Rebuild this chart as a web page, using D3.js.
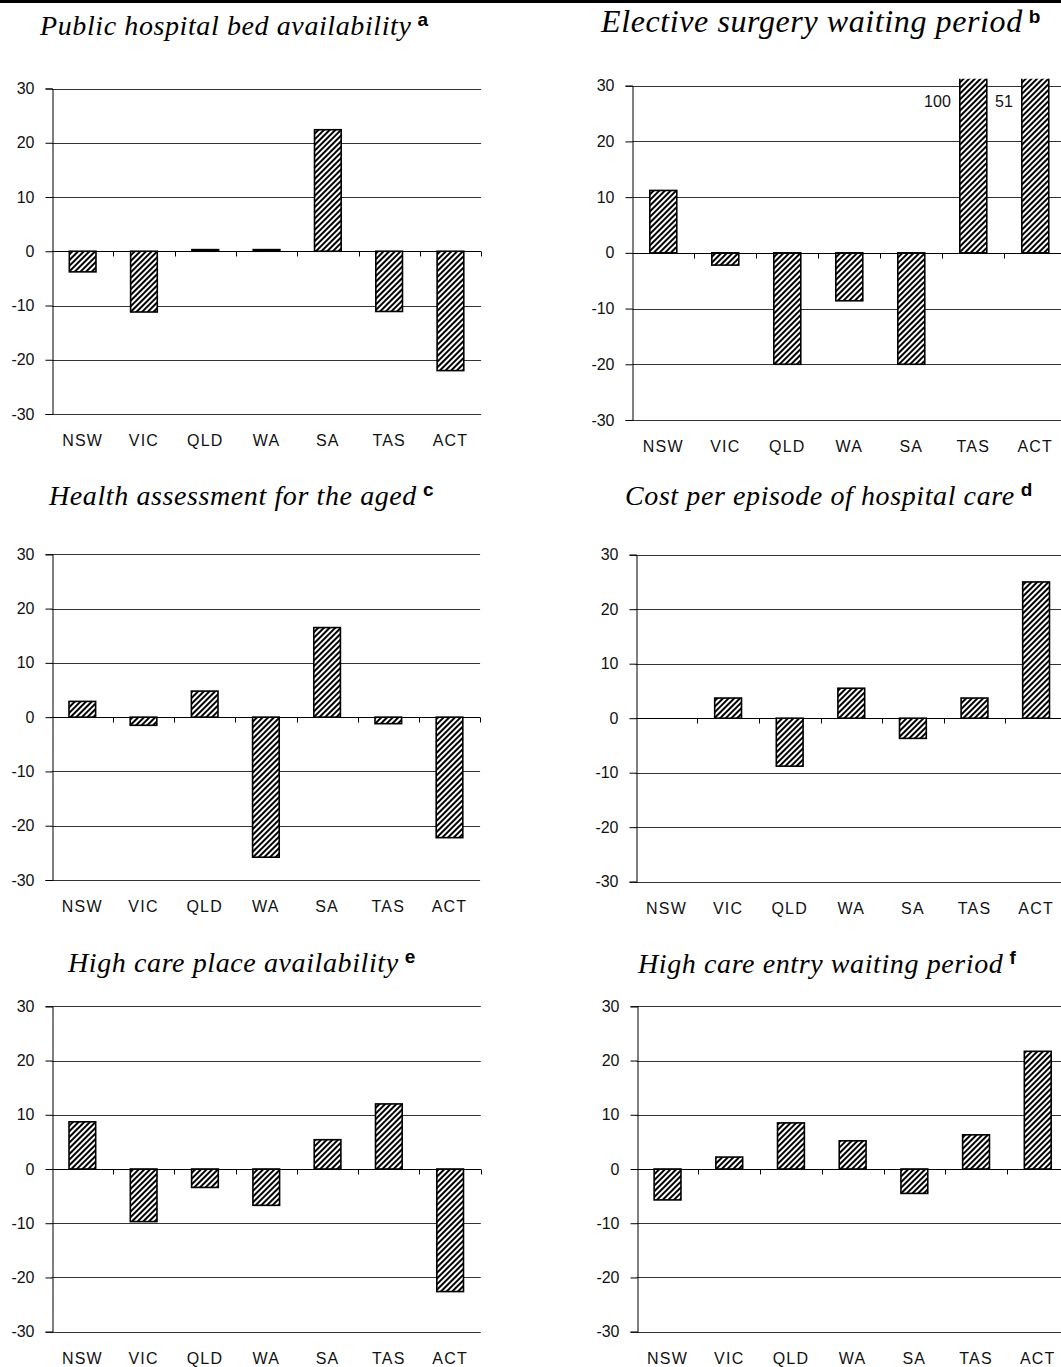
<!DOCTYPE html>
<html>
<head>
<meta charset="utf-8">
<script src="https://cdn.jsdelivr.net/npm/d3@7"></script>
<style>
  html, body { margin: 0; padding: 0; background: #fff; }
  svg { display: block; }
</style>
</head>
<body>
<svg id="chart" width="1061" height="1367"></svg>
<script>
// Jurisdictions shown on every panel
const categories = ["NSW", "VIC", "QLD", "WA", "SA", "TAS", "ACT"];
const yTicks = [-30, -20, -10, 0, 10, 20, 30];
const yDomain = [-30, 30];

// Panel titles and note letters
const titles = [
  "Public hospital bed availability",
  "Elective surgery waiting period",
  "Health assessment for the aged",
  "Cost per episode of hospital care",
  "High care place availability",
  "High care entry waiting period"
];
const notes = ["a", "b", "c", "d", "e", "f"];

// Per cent differences from the national figure, by jurisdiction
const bedAvailability   = [-3.8, -11.2, 0.3, 0.3, 22.4, -11.1, -22.0];
const surgeryWaiting    = [11.2, -2.2, -20.0, -8.6, -20.0, 100, 51];
const agedAssessment    = [2.9, -1.5, 4.8, -25.8, 16.5, -1.2, -22.2];
const costPerEpisode    = [0, 3.7, -8.8, 5.5, -3.7, 3.7, 25.0];
const highCarePlaces    = [8.7, -9.7, -3.4, -6.7, 5.4, 12.0, -22.6];
const highCareWaiting   = [-5.7, 2.2, 8.5, 5.2, -4.5, 6.3, 21.7];

const seriesList = [bedAvailability, surgeryWaiting, agedAssessment,
                    costPerEpisode, highCarePlaces, highCareWaiting];

// Where each panel sits on the page
const layout = [
  { left: 52,    step: 61.3, top: 88.5,  bottom: 414,   titleX: 40,  titleY: 35,  titleSize: 28 },
  { left: 632.3, step: 62.0, top: 85.7,  bottom: 420,   titleX: 601, titleY: 32,  titleSize: 32 },
  { left: 51.7,  step: 61.2, top: 554.3, bottom: 880,   titleX: 49,  titleY: 505, titleSize: 28 },
  { left: 635.7, step: 61.6, top: 554.7, bottom: 881.7, titleX: 625, titleY: 505, titleSize: 28 },
  { left: 51.7,  step: 61.3, top: 1006.3, bottom: 1331.7, titleX: 68, titleY: 972, titleSize: 28 },
  { left: 636.7, step: 61.7, top: 1006.3, bottom: 1331.7, titleX: 638, titleY: 973, titleSize: 28 }
];

const svg = d3.select("#chart");

// Diagonal hatch used for every bar
const defs = svg.append("defs");
const hatch = defs.append("pattern")
  .attr("id", "hatch")
  .attr("patternUnits", "userSpaceOnUse")
  .attr("width", 4).attr("height", 4)
  .attr("patternTransform", "rotate(45)");
hatch.append("rect").attr("width", 4).attr("height", 4).attr("fill", "#fff");
hatch.append("rect").attr("width", 2).attr("height", 4).attr("fill", "#000");

// Rule across the top of the page
svg.append("rect").attr("x", 0).attr("y", 0).attr("width", 1061).attr("height", 3).attr("fill", "#000");

layout.forEach((L, i) => {
  const values = seriesList[i];
  const right = L.left + L.step * categories.length;

  const x = d3.scaleBand()
    .domain(categories)
    .range([L.left, right])
    .paddingInner(0.565)
    .paddingOuter(0.2825);
  const y = d3.scaleLinear().domain(yDomain).range([L.bottom, L.top]);

  const g = svg.append("g");

  // Title with its note letter
  const t = g.append("text")
    .attr("x", L.titleX)
    .attr("y", L.titleY)
    .attr("font-family", "'Liberation Serif', 'Times New Roman', serif")
    .attr("font-style", "italic")
    .attr("font-size", L.titleSize)
    .attr("letter-spacing", 0.6)
    .attr("fill", "#000")
    .text(titles[i]);
  t.append("tspan")
    .attr("dx", 6)
    .attr("dy", -9)
    .attr("font-family", "'Liberation Sans', Arial, sans-serif")
    .attr("font-style", "normal")
    .attr("font-weight", "bold")
    .attr("font-size", 19)
    .attr("letter-spacing", 0)
    .text(notes[i]);

  // Horizontal gridlines
  g.append("g")
    .selectAll("line")
    .data(yTicks)
    .join("line")
    .attr("x1", L.left).attr("x2", right)
    .attr("y1", d => Math.round(y(d)) + 0.5)
    .attr("y2", d => Math.round(y(d)) + 0.5)
    .attr("stroke", "#333")
    .attr("stroke-width", 1);

  // Vertical value axis
  const yAxis = d3.axisLeft(y)
    .tickValues(yTicks)
    .tickSize(7)
    .tickPadding(11)
    .tickFormat(d => String(d));
  const ya = g.append("g")
    .attr("transform", `translate(${Math.round(L.left) + 0.5},0)`)
    .call(yAxis);
  ya.select(".domain").attr("stroke", "#000");
  ya.selectAll(".tick line").attr("stroke", "#000");
  ya.selectAll(".tick text")
    .attr("font-family", "'Liberation Sans', Arial, sans-serif")
    .attr("font-size", 16)
    .attr("fill", "#111");

  // Bars, clipped just above the top of the scale
  const clipId = "clip" + i;
  defs.append("clipPath").attr("id", clipId)
    .append("rect")
    .attr("x", L.left - 2).attr("y", L.top - 7)
    .attr("width", right - L.left + 4).attr("height", L.bottom - L.top + 9);

  const barG = g.append("g").attr("clip-path", `url(#${clipId})`);
  barG.selectAll("rect")
    .data(categories.map((c, k) => ({ c, v: values[k] })).filter(d => d.v !== 0))
    .join("rect")
    .attr("x", d => x(d.c))
    .attr("width", x.bandwidth())
    .attr("y", d => y(Math.max(0, d.v)))
    .attr("height", d => Math.abs(y(d.v) - y(0)))
    .attr("fill", "url(#hatch)")
    .attr("stroke", "#000")
    .attr("stroke-width", 1.6);

  // Values off the top of the scale are written beside their bars
  g.selectAll("text.offscale")
    .data(categories.map((c, k) => ({ c, v: values[k] })).filter(d => d.v > yDomain[1]))
    .join("text")
    .attr("class", "offscale")
    .attr("x", d => x(d.c) - 9)
    .attr("y", L.top + 21)
    .attr("text-anchor", "end")
    .attr("font-family", "'Liberation Sans', Arial, sans-serif")
    .attr("font-size", 16)
    .attr("fill", "#111")
    .text(d => d.v);

  // Zero line with category boundary ticks
  const y0 = Math.round(y(0)) + 0.5;
  g.append("line")
    .attr("x1", L.left).attr("x2", right)
    .attr("y1", y0).attr("y2", y0)
    .attr("stroke", "#000").attr("stroke-width", 1);
  g.append("g")
    .selectAll("line")
    .data(categories.slice(1).concat(["end"]))
    .join("line")
    .attr("x1", (d, k) => Math.round(L.left + L.step * (k + 1)) + 0.5)
    .attr("x2", (d, k) => Math.round(L.left + L.step * (k + 1)) + 0.5)
    .attr("y1", y0).attr("y2", y0 + 5)
    .attr("stroke", "#000");

  // Category labels under the plot
  g.append("g")
    .selectAll("text")
    .data(categories)
    .join("text")
    .attr("x", d => x(d) + x.bandwidth() / 2)
    .attr("y", L.bottom + 32)
    .attr("text-anchor", "middle")
    .attr("font-family", "'Liberation Sans', Arial, sans-serif")
    .attr("font-size", 16)
    .attr("letter-spacing", 1.2)
    .attr("fill", "#111")
    .text(d => d);
});
</script>
</body>
</html>
